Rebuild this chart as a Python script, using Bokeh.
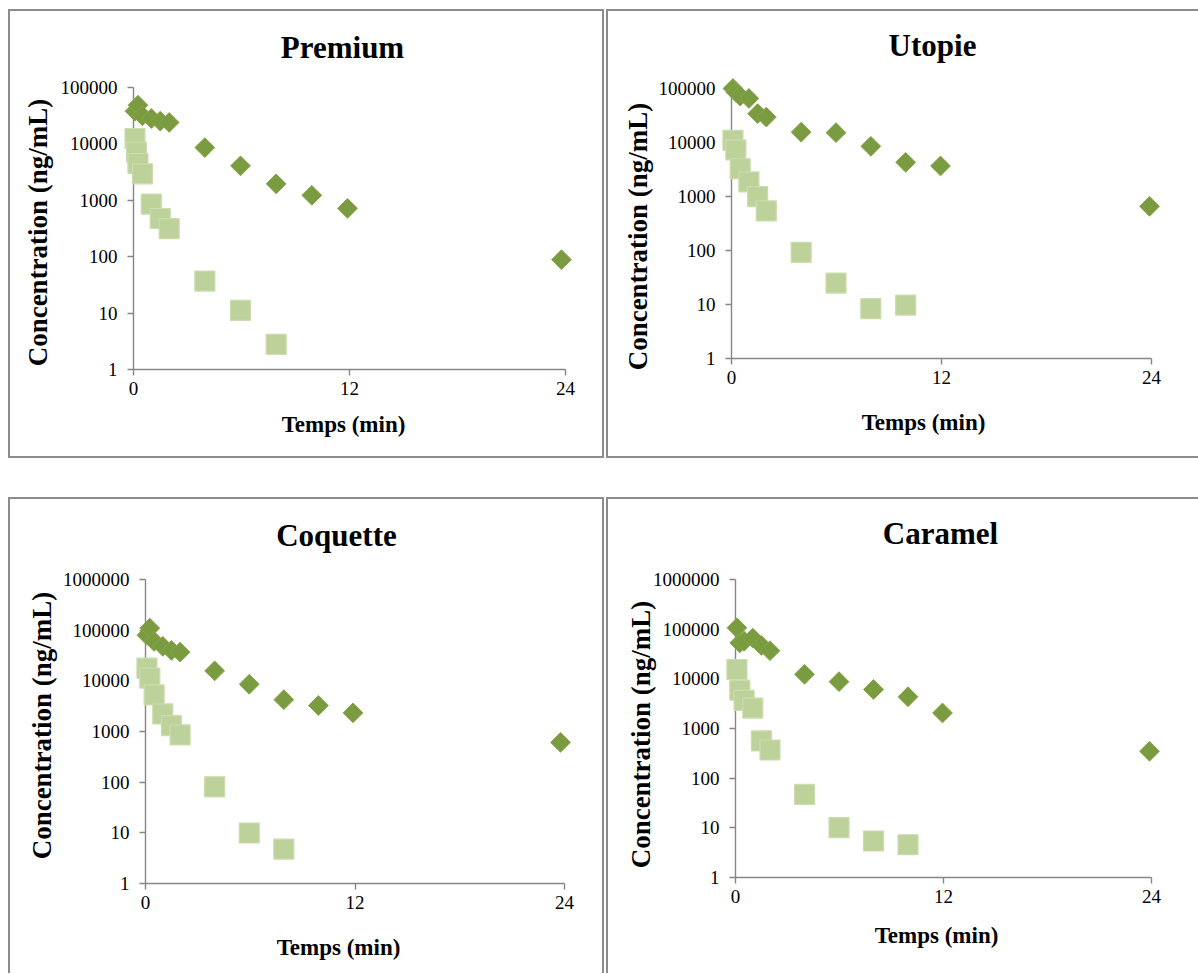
import math
import numpy as np
from bokeh.plotting import figure
from bokeh.models import FixedTicker, NumeralTickFormatter, Label, Range1d
from bokeh.embed import file_html
from bokeh.resources import INLINE

# ---------------- data ----------------
titles = ["Premium", "Utopie", "Coquette", "Caramel"]
x_ticks = [0, 12, 24]
y_ticks_5 = [1, 10, 100, 1000, 10000, 100000]
y_ticks_6 = [1, 10, 100, 1000, 10000, 100000, 1000000]

premium_dark_t = [0.083, 0.25, 0.5, 1, 1.5, 2, 4, 6, 8, 10, 12, 24]
premium_dark_c = [37500, 48000, 31000, 27700, 24800, 23500, 8300, 3900, 1850, 1150, 670, 80]
premium_light_t = [0.083, 0.167, 0.25, 0.5, 1, 1.5, 2, 4, 6, 8]
premium_light_c = [12100, 6900, 4300, 2800, 800, 440, 290, 33, 9.8, 2.4]

utopie_dark_t = [0.083, 0.25, 0.5, 1, 1.5, 2, 4, 6, 8, 10, 12, 24]
utopie_dark_c = [100000, 85000, 72000, 65000, 33700, 29000, 15100, 14800, 8200, 4100, 3500, 610]
utopie_light_t = [0.083, 0.25, 0.5, 1, 1.5, 2, 4, 6, 8, 10]
utopie_light_c = [10600, 7000, 3100, 1750, 930, 500, 83, 22, 7.3, 8.5]

coquette_dark_t = [0.083, 0.25, 0.5, 1, 1.5, 2, 4, 6, 8, 10, 12, 24]
coquette_dark_c = [78000, 108000, 59000, 47000, 39000, 36000, 15300, 8300, 4100, 3140, 2240, 580]
coquette_light_t = [0.083, 0.25, 0.5, 1, 1.5, 2, 4, 6, 8]
coquette_light_c = [17300, 11000, 5100, 2130, 1250, 815, 76, 9.2, 4.4]

caramel_dark_t = [0.083, 0.25, 0.5, 1, 1.5, 2, 4, 6, 8, 10, 12, 24]
caramel_dark_c = [105000, 52000, 56000, 65000, 46000, 36000, 12000, 8500, 5900, 4200, 1970, 330]
caramel_light_t = [0.083, 0.25, 0.5, 1, 1.5, 2, 4, 6, 8, 10]
caramel_light_c = [15000, 5700, 3550, 2480, 535, 350, 44, 9.3, 5, 4.2]

x_label = "Temps (min)"
y_label = "Concentration (ng/mL)"

# ---------------- styling / layout ----------------
DARK_FILL, DARK_LINE = "#7a9b3f", "#87a74d"
LIGHT_FILL, LIGHT_LINE = "#bdd29a", "#cbdcae"
AXIS_COLOR = "#868686"
BORDER_COLOR = "#8c8c8c"
SERIF = "Liberation Serif"


def build(name, dark_t, dark_c, light_t, light_c, y_ticks,
          c_left, c_top, c_w, c_h, X0, X24, Ybot, Ytop,
          title_xy, ylab_xy, xlab_xy, border_widths):
    u = (X24 - X0) / 24.0
    top_exp = math.log10(y_ticks[-1])
    d = (Ybot - Ytop) / top_exp
    bt, br, bb, bl = border_widths

    # ---- axes figure: frame exactly on the data region, panel border via CSS
    pa = figure(width=c_w, height=c_h,
                x_range=Range1d(0, 24), y_range=Range1d(1, y_ticks[-1]),
                y_axis_type="log", output_backend="svg", toolbar_location=None,
                min_border_left=X0 - c_left, min_border_right=c_left + c_w - X24,
                min_border_top=Ytop - c_top, min_border_bottom=c_top + c_h - Ybot,
                background_fill_color="white", border_fill_color="white")
    pa.styles = {"position": "absolute",
                 "left": f"{c_left - bl}px", "top": f"{c_top - bt}px",
                 "border-style": "solid", "border-color": BORDER_COLOR,
                 "border-width": f"{bt}px {br}px {bb}px {bl}px",
                 "box-sizing": "content-box"}
    pa.outline_line_color = None
    pa.grid.visible = False
    for ax in (pa.xaxis[0], pa.yaxis[0]):
        ax.axis_line_color = AXIS_COLOR
        ax.axis_line_width = 1.4
        ax.major_tick_line_color = AXIS_COLOR
        ax.major_tick_line_width = 1.4
        ax.major_tick_out = 6
        ax.major_tick_in = 0
        ax.minor_tick_out = 0
        ax.minor_tick_in = 0
        ax.major_label_text_font = SERIF
        ax.major_label_text_font_size = "19px"
        ax.major_label_text_color = "black"
    pa.xaxis[0].ticker = FixedTicker(ticks=x_ticks)
    pa.xaxis[0].major_label_standoff = 6
    pa.yaxis[0].ticker = FixedTicker(ticks=y_ticks)
    pa.yaxis[0].formatter = NumeralTickFormatter(format="0")
    pa.yaxis[0].major_label_standoff = 10

    # ---- marks figure: transparent, laid over the whole content box, same scales
    x_start = (c_left - X0) / u
    x_end = (c_left + c_w - X0) / u
    y_start = 10 ** (-(c_top + c_h - Ybot) / d)
    y_end = 10 ** ((Ybot - c_top) / d)
    pm = figure(width=c_w, height=c_h,
                x_range=Range1d(x_start, x_end), y_range=Range1d(y_start, y_end),
                y_axis_type="log", output_backend="svg", toolbar_location=None,
                x_axis_location=None, y_axis_location=None,
                min_border=0, min_border_left=0, min_border_right=0,
                min_border_top=0, min_border_bottom=0,
                background_fill_color=None, border_fill_color=None)
    pm.styles = {"position": "absolute", "left": f"{c_left}px", "top": f"{c_top}px"}
    pm.outline_line_color = None
    pm.grid.visible = False

    pm.scatter(dark_t, dark_c, marker="square", angle=np.pi / 4, size=14,
               fill_color=DARK_FILL, line_color=DARK_LINE, line_width=1)
    pm.scatter(light_t, light_c, marker="square", size=20,
               fill_color=LIGHT_FILL, line_color=LIGHT_LINE, line_width=1.2)

    def to_data(px, py):
        return (px - X0) / u, 10 ** ((Ybot - py) / d)

    tx, ty = to_data(*title_xy)
    pm.add_layout(Label(x=tx, y=ty, text=name, text_font=SERIF, text_font_style="bold",
                        text_font_size="31px", text_align="center", text_baseline="middle",
                        text_color="black"))
    lx, ly = to_data(*ylab_xy)
    pm.add_layout(Label(x=lx, y=ly, text=y_label, angle=np.pi / 2, text_font=SERIF,
                        text_font_style="bold", text_font_size="27px", text_align="center",
                        text_baseline="middle", text_color="black"))
    xx, xy = to_data(*xlab_xy)
    pm.add_layout(Label(x=xx, y=xy, text=x_label, text_font=SERIF, text_font_style="bold",
                        text_font_size="23px", text_align="center", text_baseline="middle",
                        text_color="black"))
    return pa, pm


# panels: x 8..604 and 606..1198 ; y 9..458 and 497..974 ; content boxes inside 2px borders
a1, m1 = build(titles[0], premium_dark_t, premium_dark_c, premium_light_t, premium_light_c, y_ticks_5,
               10, 11, 592, 445, 133, 561, 365, 87,
               (342, 47), (37, 232), (343, 424), (2, 2, 2, 2))
a2, m2 = build(titles[1], utopie_dark_t, utopie_dark_c, utopie_light_t, utopie_light_c, y_ticks_5,
               608, 11, 590, 445, 731, 1149, 354, 88,
               (932, 45), (637, 236), (923, 422), (2, 0, 2, 2))
a3, m3 = build(titles[2], coquette_dark_t, coquette_dark_c, coquette_light_t, coquette_light_c, y_ticks_6,
               10, 499, 592, 474, 145, 560, 881, 579,
               (336, 535), (41, 725), (338, 947), (2, 2, 0, 2))
a4, m4 = build(titles[3], caramel_dark_t, caramel_dark_c, caramel_light_t, caramel_light_c, y_ticks_6,
               608, 499, 590, 474, 735, 1149, 875, 579,
               (940, 533), (640, 734), (936, 935), (2, 0, 0, 2))

open("out.html", "w").write(file_html([a1, m1, a2, m2, a3, m3, a4, m4], INLINE))
